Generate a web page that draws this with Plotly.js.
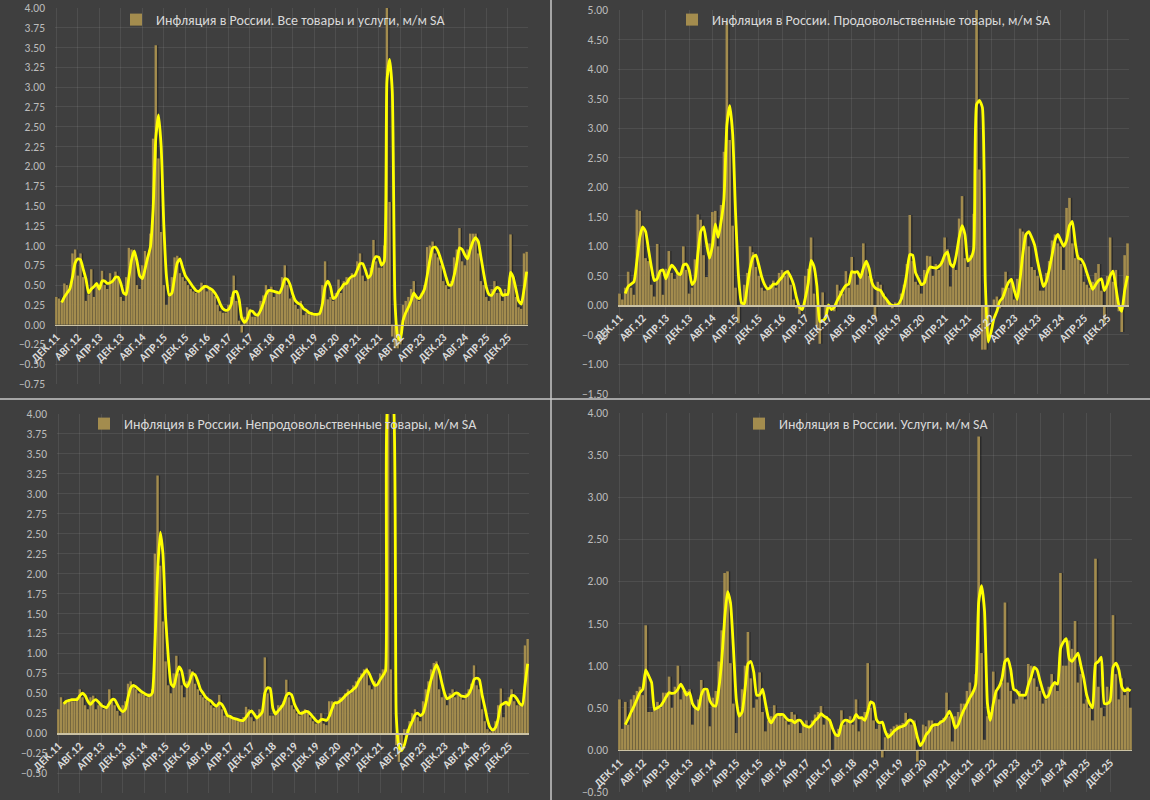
<!DOCTYPE html>
<html>
<head>
<meta charset="utf-8">
<script src="https://cdn.plot.ly/plotly-3.0.1.min.js"></script>
<style>
html,body{margin:0;padding:0;background:#3f3f3f;}
#chart{width:1150px;height:800px;}
</style>
</head>
<body>
<div id="chart"></div>
<script>
// ---------- categories (monthly, Dec 2011 onwards) ----------
const monthNames = ['ЯНВ','ФЕВ','МАР','АПР','МАЙ','ИЮН','ИЮЛ','АВГ','СЕН','ОКТ','НОЯ','ДЕК'];
const startYear = 2011, startMonth = 11; // December 2011

// ---------- tick labels (every 8 months) ----------
const tickLabels = ['ДЕК.11','АВГ.12','АПР.13','ДЕК.13','АВГ.14','АПР.15','ДЕК.15','АВГ.16','АПР.17','ДЕК.17','АВГ.18',
  'АПР.19','ДЕК.19','АВГ.20','АПР.21','ДЕК.21','АВГ.22','АПР.23','ДЕК.23','АВГ.24','АПР.25','ДЕК.25'];

// ---------- titles ----------
const titleAll = 'Инфляция в России. Все товары и услуги, м/м SA';
const titleFood = 'Инфляция в России. Продовольственные товары, м/м SA';
const titleNonFood = 'Инфляция в России. Непродовольственные товары, м/м SA';
const titleServ = 'Инфляция в России. Услуги, м/м SA';

// ---------- All goods & services ----------
const allBars = [0.35,0.33,0.30,0.52,0.50,0.45,0.90,0.95,0.62,0.90,
 0.60,0.30,0.38,0.70,0.35,0.50,0.45,0.68,0.50,0.45,
 0.65,0.55,0.67,0.60,0.35,0.30,0.60,0.97,0.95,0.90,
 0.50,0.45,0.75,0.93,0.85,1.15,2.35,3.53,2.10,1.17,
 0.50,0.25,0.35,0.60,0.85,0.87,0.65,0.60,0.55,0.50,
 0.45,0.42,0.40,0.42,0.53,0.50,0.42,0.45,0.42,0.36,
 0.25,0.17,0.15,0.15,0.25,0.35,0.62,0.30,0.05,-0.10,
 0.10,0.22,0.20,0.10,0.10,0.15,0.30,0.37,0.50,0.45,
 0.48,0.35,0.40,0.40,0.60,0.75,0.50,0.33,0.35,0.25,
 0.20,0.30,0.12,0.15,0.13,0.15,0.12,0.13,0.15,0.50,
 0.80,0.32,0.35,0.30,0.40,0.57,0.40,0.55,0.60,0.58,
 0.65,0.62,0.80,0.90,0.62,0.55,0.60,0.72,1.07,0.80,
 0.72,0.72,1.00,7.50,1.55,-0.15,-0.30,-0.30,-0.25,0.25,
 0.30,0.35,0.45,0.55,0.35,0.30,0.40,0.50,0.98,1.00,
 1.05,0.90,0.85,0.75,0.55,0.50,0.45,0.55,0.85,0.95,
 1.22,0.80,0.75,0.95,1.15,1.15,1.15,0.90,0.55,0.50,
 0.35,0.30,0.45,0.55,0.40,0.40,0.30,0.45,0.40,1.14,
 0.60,0.35,0.22,0.20,0.90,0.92];
const allLine = [null,null,0.28,0.35,0.40,0.45,0.60,0.78,0.83,0.82,
 0.70,0.58,0.40,0.45,0.48,0.52,0.45,0.55,0.55,0.52,
 0.53,0.55,0.60,0.60,0.52,0.40,0.38,0.60,0.82,0.93,
 0.80,0.62,0.58,0.70,0.85,0.98,1.45,2.35,2.65,2.25,
 1.25,0.60,0.37,0.40,0.60,0.78,0.83,0.72,0.62,0.57,
 0.52,0.47,0.43,0.42,0.45,0.48,0.48,0.46,0.44,0.40,
 0.34,0.26,0.20,0.18,0.19,0.25,0.41,0.42,0.32,0.08,
 0.03,0.07,0.17,0.17,0.13,0.12,0.18,0.27,0.38,0.43,
 0.43,0.42,0.41,0.40,0.47,0.58,0.57,0.50,0.38,0.30,
 0.27,0.25,0.20,0.18,0.15,0.14,0.13,0.13,0.14,0.26,
 0.48,0.55,0.48,0.33,0.35,0.42,0.46,0.51,0.52,0.58,
 0.61,0.62,0.69,0.77,0.77,0.69,0.59,0.63,0.80,0.86,
 0.85,0.75,0.80,3.07,3.35,2.95,0.30,-0.15,-0.20,0.05,
 0.15,0.22,0.30,0.40,0.35,0.33,0.38,0.45,0.62,0.82,
 0.97,0.98,0.93,0.83,0.72,0.60,0.50,0.50,0.62,0.78,
 0.97,0.95,0.88,0.83,0.95,1.05,1.10,1.05,0.85,0.65,
 0.47,0.38,0.37,0.43,0.47,0.45,0.37,0.38,0.38,0.66,
 0.60,0.45,0.30,0.26,0.44,0.67];

// ---------- Food ----------
const foodBars = [0.20,0.10,0.30,0.57,0.30,0.18,1.62,1.60,1.30,0.80,
 0.75,0.35,0.15,1.04,0.60,0.18,0.62,0.92,0.55,0.45,
 0.55,0.50,1.00,0.60,0.20,0.30,0.78,1.54,1.45,0.85,
 0.48,1.05,1.58,1.60,1.00,1.70,2.60,4.80,2.80,1.35,
 0.30,-0.30,0.05,0.35,0.55,1.00,0.90,0.65,0.50,0.30,
 0.25,0.30,0.35,0.42,0.30,0.55,0.60,0.50,0.60,0.35,
 0.10,-0.05,-0.15,0.00,0.50,0.62,1.15,0.20,-0.35,-0.65,
 0.22,-0.20,0.00,0.00,-0.10,0.35,0.25,0.20,0.58,0.30,
 0.82,0.55,0.35,0.50,1.05,0.70,0.50,0.45,-0.20,0.40,
 0.35,0.20,0.10,0.05,-0.05,0.05,0.00,0.20,0.35,0.70,
 1.53,0.75,0.40,0.35,0.20,0.60,0.84,0.83,0.50,0.70,
 0.60,0.75,1.15,0.95,0.32,0.70,0.60,1.47,1.85,0.80,
 0.65,0.85,1.55,6.50,2.30,-0.75,-0.75,-0.55,0.00,0.10,
 0.15,-0.05,0.30,0.57,0.30,0.45,0.10,0.45,1.30,1.25,
 1.20,1.00,0.65,0.60,0.50,0.25,0.25,0.55,0.75,1.10,
 1.20,1.05,1.00,0.60,1.65,1.82,1.05,0.80,0.85,0.70,
 0.40,0.35,0.30,0.40,0.55,0.70,0.25,-0.30,0.50,1.15,
 0.40,0.60,-0.10,-0.45,0.85,1.05];
const foodLine = [null,null,0.20,0.32,0.36,0.40,0.75,1.15,1.33,1.25,
 0.95,0.65,0.42,0.45,0.58,0.60,0.45,0.58,0.68,0.63,
 0.55,0.52,0.68,0.70,0.60,0.35,0.42,0.87,1.25,1.33,
 1.05,0.80,1.00,1.38,1.15,1.42,1.80,3.05,3.38,2.90,
 1.55,0.50,0.05,0.02,0.32,0.63,0.82,0.85,0.68,0.48,
 0.35,0.28,0.30,0.36,0.36,0.42,0.48,0.55,0.57,0.48,
 0.35,0.13,-0.03,-0.07,0.12,0.37,0.76,0.66,0.33,-0.27,
 -0.26,-0.21,0.01,-0.07,-0.03,0.08,0.17,0.27,0.34,0.36,
 0.57,0.56,0.57,0.47,0.63,0.75,0.62,0.38,0.30,0.27,
 0.25,0.16,0.10,0.03,0.00,0.00,0.02,0.10,0.28,0.55,
 0.86,0.85,0.55,0.45,0.35,0.38,0.55,0.65,0.64,0.63,
 0.66,0.72,0.85,0.90,0.70,0.65,0.85,1.15,1.35,1.20,
 0.75,0.80,0.95,3.40,3.47,3.35,0.40,-0.62,-0.45,-0.22,
 -0.10,0.07,0.13,0.27,0.39,0.44,0.25,0.10,0.45,0.90,
 1.20,1.25,1.15,1.02,0.75,0.52,0.32,0.40,0.60,0.85,
 1.10,1.20,1.10,1.00,1.10,1.35,1.42,1.05,0.80,0.78,
 0.70,0.55,0.40,0.27,0.35,0.42,0.45,0.25,0.35,0.50,
 0.58,0.30,0.00,-0.10,0.25,0.50];

// ---------- Non-food ----------
const nonFoodBars = [0.30,0.45,0.38,0.40,0.42,0.40,0.40,0.45,0.55,0.45,
 0.35,0.30,0.45,0.47,0.30,0.35,0.38,0.30,0.32,0.55,
 0.40,0.35,0.28,0.22,0.35,0.40,0.62,0.65,0.60,0.55,
 0.50,0.50,0.48,0.45,0.50,0.55,2.25,3.23,2.10,1.40,
 0.90,0.60,0.50,0.75,0.97,0.75,0.60,0.45,0.65,0.80,
 0.78,0.62,0.55,0.48,0.45,0.42,0.40,0.35,0.32,0.35,
 0.48,0.30,0.22,0.20,0.20,0.18,0.17,0.15,0.15,0.20,
 0.33,0.30,0.20,0.15,0.22,0.30,0.25,0.95,0.50,0.22,
 0.22,0.28,0.35,0.35,0.40,0.67,0.45,0.35,0.30,0.25,
 0.22,0.28,0.30,0.25,0.20,0.15,0.12,0.15,0.25,0.12,
 0.10,0.40,0.40,0.35,0.40,0.45,0.45,0.50,0.55,0.50,
 0.60,0.65,0.70,0.75,0.80,0.82,0.60,0.55,0.65,0.62,
 0.75,0.80,0.80,11.00,0.80,0.00,-0.15,-0.36,-0.15,0.05,
 0.05,0.15,0.25,0.30,0.20,0.15,0.40,0.55,0.65,0.80,
 0.88,0.90,0.55,0.45,0.50,0.35,0.50,0.55,0.45,0.50,
 0.45,0.42,0.50,0.55,0.62,0.85,0.60,0.55,0.30,0.15,
 0.05,0.02,0.05,0.15,0.35,0.56,0.20,0.40,0.45,0.55,
 0.40,0.35,0.35,0.35,1.10,1.18];
const nonFoodLine = [null,null,0.37,0.40,0.41,0.42,0.42,0.42,0.47,0.50,
 0.47,0.40,0.36,0.40,0.42,0.39,0.35,0.33,0.32,0.37,
 0.42,0.42,0.36,0.30,0.27,0.30,0.45,0.57,0.60,0.58,
 0.55,0.52,0.50,0.48,0.47,0.50,1.10,2.00,2.52,2.25,
 1.45,0.95,0.62,0.58,0.72,0.83,0.78,0.62,0.58,0.65,
 0.75,0.73,0.65,0.55,0.50,0.45,0.42,0.40,0.36,0.34,
 0.38,0.36,0.30,0.22,0.21,0.19,0.18,0.17,0.16,0.16,
 0.20,0.25,0.28,0.24,0.19,0.22,0.26,0.50,0.57,0.56,
 0.31,0.24,0.28,0.32,0.37,0.47,0.50,0.48,0.37,0.30,
 0.25,0.25,0.27,0.27,0.24,0.20,0.16,0.14,0.17,0.17,
 0.16,0.21,0.30,0.38,0.38,0.40,0.43,0.47,0.50,0.52,
 0.55,0.58,0.65,0.70,0.75,0.79,0.74,0.66,0.60,0.61,
 0.67,0.72,0.78,4.20,4.20,4.10,0.22,-0.17,-0.22,-0.15,
 -0.02,0.08,0.15,0.23,0.25,0.22,0.25,0.37,0.53,0.67,
 0.78,0.86,0.78,0.63,0.50,0.43,0.45,0.47,0.50,0.50,
 0.47,0.46,0.46,0.49,0.56,0.67,0.69,0.67,0.48,0.33,
 0.17,0.07,0.04,0.07,0.18,0.35,0.37,0.39,0.35,0.47,
 0.47,0.43,0.37,0.35,0.60,0.87];

// ---------- Services ----------
const servBars = [0.60,0.25,0.57,0.30,0.60,0.65,0.70,0.75,0.65,1.48,
 0.45,0.45,0.50,0.57,0.50,0.68,0.68,0.87,0.50,0.75,
 1.00,0.60,0.70,0.70,0.72,0.30,0.50,0.60,0.83,0.70,
 0.70,0.28,0.62,0.70,1.05,1.42,2.10,2.12,1.03,0.55,
 0.20,0.45,0.72,1.00,1.40,0.85,0.50,0.60,0.92,0.45,
 0.22,0.35,0.40,0.53,0.40,0.42,0.40,0.35,0.30,0.45,
 0.42,0.35,0.20,0.30,0.35,0.27,0.35,0.42,0.45,0.52,
 0.30,0.40,0.35,0.00,0.20,0.25,0.47,0.30,0.35,0.40,
 0.30,0.60,0.22,0.40,0.45,1.03,0.50,0.35,0.25,0.30,
 -0.09,0.15,0.20,0.25,0.28,0.30,0.30,0.32,0.44,0.35,
 0.30,0.35,-0.14,0.00,0.30,0.28,0.35,0.35,0.30,0.30,
 0.35,0.38,0.68,0.40,0.10,0.40,0.45,0.55,0.55,0.70,
 0.80,0.70,0.90,3.72,1.15,0.12,0.40,0.45,0.93,0.70,
 0.60,0.80,1.75,0.80,0.70,0.55,0.60,0.70,0.65,0.60,
 1.02,1.00,0.85,0.75,0.70,0.55,0.60,0.75,0.90,0.80,
 0.70,2.10,1.00,1.00,1.30,1.20,1.53,0.80,0.90,0.55,
 0.60,0.50,0.35,2.27,0.75,0.50,0.40,0.75,0.60,1.60,
 0.90,0.60,0.85,0.65,0.75,0.50];
const servLine = [null,null,0.30,0.37,0.45,0.52,0.60,0.68,0.72,0.95,
 0.88,0.80,0.48,0.50,0.52,0.57,0.63,0.68,0.67,0.68,
 0.72,0.78,0.72,0.65,0.68,0.55,0.50,0.48,0.65,0.72,
 0.72,0.58,0.53,0.52,0.72,1.05,1.55,1.88,1.75,1.22,
 0.60,0.40,0.45,0.72,1.02,1.05,0.92,0.65,0.65,0.72,
 0.55,0.38,0.32,0.38,0.42,0.42,0.42,0.38,0.35,0.35,
 0.32,0.35,0.35,0.30,0.28,0.27,0.30,0.35,0.38,0.43,
 0.40,0.38,0.35,0.25,0.18,0.17,0.30,0.35,0.35,0.33,
 0.35,0.42,0.38,0.38,0.35,0.45,0.57,0.55,0.36,0.32,
 0.33,0.22,0.15,0.18,0.22,0.25,0.27,0.28,0.30,0.35,
 0.35,0.30,0.15,0.05,0.10,0.18,0.22,0.28,0.30,0.30,
 0.33,0.35,0.40,0.46,0.38,0.26,0.30,0.40,0.48,0.55,
 0.62,0.68,0.78,1.75,1.95,1.65,0.55,0.35,0.55,0.70,
 0.75,0.85,1.05,1.08,0.95,0.72,0.70,0.65,0.65,0.65,
 0.77,0.87,0.98,0.95,0.82,0.70,0.62,0.65,0.75,0.80,
 0.78,1.20,1.28,1.32,1.08,1.05,1.10,1.15,1.00,0.85,
 0.65,0.55,0.50,1.02,1.05,1.10,0.55,0.55,0.58,0.98,
 1.03,0.95,0.75,0.70,0.72,0.70];

// ---------- build month categories ----------
const months = allBars.map((_, k) => {
  const m = (startMonth + k) % 12;
  const y = startYear + Math.floor((startMonth + k) / 12);
  return monthNames[m] + '.' + String(y).slice(2);
});

// ---------- layout geometry (pixels) ----------
const W = 1150, H = 800;
const FONT = 'Carlito, "Liberation Sans", Arial, sans-serif';
const panels = [
  {bars: allBars, line: allLine, name: titleAll, xd: [55, 528], yd: [8, 384], yr: [-0.75, 4], dt: 0.25, leg: [116, 20]},
  {bars: foodBars, line: foodLine, name: titleFood, xd: [618, 1129], yd: [10, 394], yr: [-1.5, 5], dt: 0.5, leg: [672, 20]},
  {bars: nonFoodBars, line: nonFoodLine, name: titleNonFood, xd: [57, 529], yd: [414, 793], yr: [-0.75, 4], dt: 0.25, leg: [84, 424]},
  {bars: servBars, line: servLine, name: titleServ, xd: [618, 1132], yd: [413, 792], yr: [-0.5, 4], dt: 0.5, leg: [739, 424]}
];

const traces = [];
const layout = {
  width: W, height: H,
  margin: {l: 0, r: 0, t: 0, b: 0},
  paper_bgcolor: '#3f3f3f',
  plot_bgcolor: '#3f3f3f',
  barmode: 'overlay',
  hovermode: false,
  font: {family: FONT, color: '#d9d9d9'},
  shapes: [
    {type: 'line', xref: 'paper', yref: 'paper', x0: 551 / W, x1: 551 / W, y0: 0, y1: 1, line: {color: '#c9c9c9', width: 1.5}},
    {type: 'line', xref: 'paper', yref: 'paper', x0: 0, x1: 1, y0: 1 - 399 / H, y1: 1 - 399 / H, line: {color: '#c9c9c9', width: 1.5}}
  ]
};

panels.forEach((p, idx) => {
  const k = idx + 1;
  const sfx = k === 1 ? '' : String(k);
  const xa = 'x' + sfx, ya = 'y' + sfx;
  const legId = 'legend' + sfx;
  const yDom = [1 - p.yd[1] / H, 1 - p.yd[0] / H];
  const zeroPos = yDom[0] + (0 - p.yr[0]) / (p.yr[1] - p.yr[0]) * (yDom[1] - yDom[0]);

  // bar shadow
  traces.push({
    type: 'bar', x: months, y: p.bars, xaxis: xa, yaxis: ya,
    width: 0.9, offset: 0.05,
    marker: {color: 'rgba(22,22,22,0.5)', line: {width: 0}},
    showlegend: false, hoverinfo: 'skip'
  });
  // main bars
  traces.push({
    type: 'bar', x: months, y: p.bars, xaxis: xa, yaxis: ya,
    width: 0.9,
    marker: {color: '#a38c4e', line: {width: 0}},
    name: p.name, legend: legId, showlegend: true
  });
  // smoothed line
  traces.push({
    type: 'scatter', mode: 'lines', x: months, y: p.line, xaxis: xa, yaxis: ya,
    line: {color: '#ffff00', width: 2.8, shape: 'spline', smoothing: 0.5},
    showlegend: false, connectgaps: false, hoverinfo: 'skip'
  });

  layout['xaxis' + sfx] = {
    domain: [p.xd[0] / W, p.xd[1] / W],
    type: 'category',
    range: [-0.5, months.length - 0.5],
    anchor: 'free', position: zeroPos,
    tickmode: 'array', tickvals: tickLabels, ticktext: tickLabels,
    tickangle: -45,
    tickfont: {family: FONT, size: 11.5, color: '#dadada', weight: 'bold'},
    ticks: '',
    showgrid: true, gridcolor: 'rgba(255,255,255,0.08)', gridwidth: 1,
    showline: true, linecolor: '#cbc2a4', linewidth: 1.5,
    zeroline: false, automargin: false, fixedrange: true
  };
  layout['yaxis' + sfx] = {
    domain: yDom,
    range: p.yr,
    anchor: xa,
    tick0: 0, dtick: p.dt, tickformat: '.2f',
    tickfont: {family: FONT, size: 11.5, color: '#bdbdbd'},
    ticks: '', ticklabelstandoff: 9,
    showgrid: true, gridcolor: 'rgba(255,255,255,0.08)', gridwidth: 1,
    zeroline: false, showline: false, automargin: false, fixedrange: true
  };
  layout[legId] = {
    x: p.leg[0] / W, y: 1 - p.leg[1] / H,
    xanchor: 'left', yanchor: 'middle',
    bgcolor: 'rgba(0,0,0,0)', borderwidth: 0,
    font: {family: FONT, size: 14, color: '#d9d9d9'},
    itemclick: false, itemdoubleclick: false
  };
});

Plotly.newPlot('chart', traces, layout, {staticPlot: true, displayModeBar: false});
</script>
</body>
</html>
